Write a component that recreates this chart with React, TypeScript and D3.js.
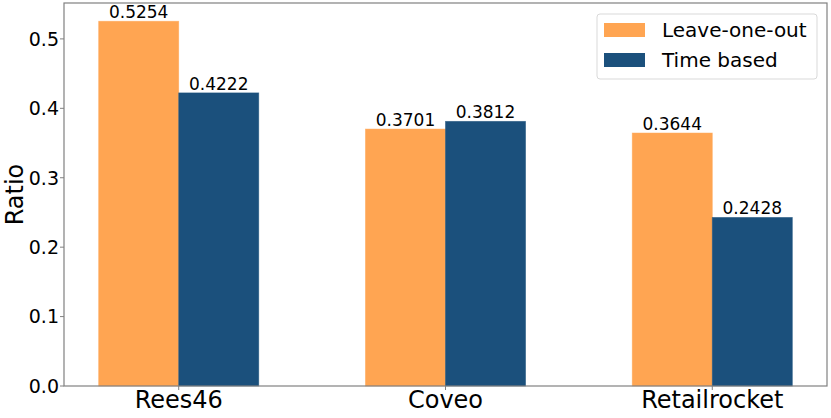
import React from "react";
import * as d3 from "d3";

const categories = ["Rees46", "Coveo", "Retailrocket"];
const seriesNames = ["Leave-one-out", "Time based"];
const leaveOneOut = [0.5254, 0.3701, 0.3644];
const timeBased = [0.4222, 0.3812, 0.2428];
const yTicks = [0.0, 0.1, 0.2, 0.3, 0.4, 0.5];
const colors = ["#FFA552", "#1B507C"];

export default function App() {
  const W = 831, H = 418;
  const left = 64, right = 827, top = 3, bottom = 386;
  const barW = 0.3;
  const x = d3.scaleLinear().domain([-0.3 - 0.13, 2.3 + 0.13]).range([left, right]);
  const y = d3.scaleLinear().domain([0, 0.5517]).range([bottom, top]);
  const series = [leaveOneOut, timeBased];
  const font = "DejaVu Sans, sans-serif";
  return (
    <svg width={W} height={H} style={{ position: "absolute", left: 0, top: 0, background: "#fff" }} fontFamily={font}>
      {series.map((vals, s) =>
        vals.map((v, i) => {
          const x0 = x(i + (s === 0 ? -barW : 0));
          const x1 = x(i + (s === 0 ? 0 : barW));
          return (
            <g key={`${s}-${i}`}>
              <rect x={x0} y={y(v)} width={x1 - x0} height={y(0) - y(v)} fill={colors[s]} stroke={colors[s]} strokeOpacity={0.6} strokeWidth={0.8} />
              <text x={(x0 + x1) / 2} y={y(v) - 3} textAnchor="middle" fontSize={17} fill="#000">{v.toFixed(4)}</text>
            </g>
          );
        })
      )}
      <rect x={left} y={top} width={right - left} height={bottom - top} fill="none" stroke="#808080" strokeWidth={1.2} />
      {yTicks.map((t) => (
        <g key={t}>
          <line x1={left - 4} x2={left} y1={y(t)} y2={y(t)} stroke="#808080" strokeWidth={1} />
          <text x={left - 5} y={y(t)} dy="0.36em" textAnchor="end" fontSize={19} fill="#000">{t.toFixed(1)}</text>
        </g>
      ))}
      {categories.map((c, i) => (
        <g key={c}>
          <line x1={x(i)} x2={x(i)} y1={bottom} y2={bottom + 4} stroke="#808080" strokeWidth={1} />
          <text x={x(i)} y={bottom + 22} textAnchor="middle" fontSize={24} fill="#000">{c}</text>
        </g>
      ))}
      <text transform={`translate(${23},${(top + bottom) / 2}) rotate(-90)`} textAnchor="middle" fontSize={24} fill="#000">Ratio</text>
      <g>
        <rect x={597} y={14} width={220} height={65} rx={3} fill="#fff" fillOpacity={0.8} stroke="#d9d9d9" strokeWidth={1} />
        {seriesNames.map((n, k) => (
          <g key={n}>
            <rect x={604} y={23 + k * 30} width={41} height={14} fill={colors[k]} />
            <text x={662} y={30 + k * 30} dy="0.36em" fontSize={20} fill="#000">{n}</text>
          </g>
        ))}
      </g>
    </svg>
  );
}
